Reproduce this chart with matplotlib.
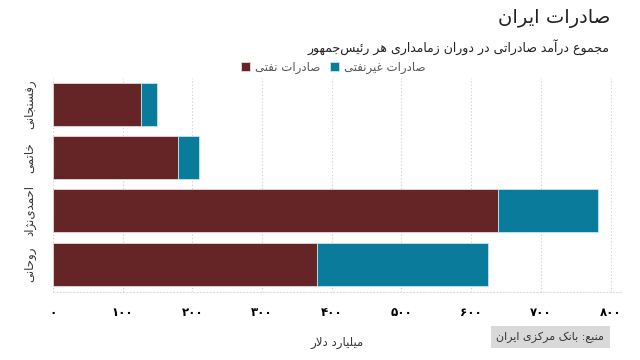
import matplotlib
matplotlib.use("Agg")
import matplotlib.pyplot as plt
import numpy as np

# data (billion dollars)
presidents = ["رفسنجانی", "خاتمی", "احمدی‌نژاد", "روحانی"]
oil_exports = [126, 179, 638, 379]
non_oil_exports = [23, 31, 144, 245]
x_ticks = [0, 100, 200, 300, 400, 500, 600, 700, 800]

title = "صادرات ایران"
subtitle = "مجموع درآمد صادراتی در دوران زمامداری هر رئیس‌جمهور"
legend_labels = ["صادرات نفتی", "صادرات غیرنفتی"]
x_label = "میلیارد دلار"
source = "منبع: بانک مرکزی ایران"

OIL_COLOR = "#652426"
NON_OIL_COLOR = "#0a7b9b"

# (isolated, final, initial, medial)
FORMS = {
    "ا": ("\uFE8D", "\uFE8E", None, None),
    "آ": ("\uFE81", "\uFE82", None, None),
    "ب": ("\uFE8F", "\uFE90", "\uFE91", "\uFE92"),
    "پ": ("\uFB56", "\uFB57", "\uFB58", "\uFB59"),
    "ت": ("\uFE95", "\uFE96", "\uFE97", "\uFE98"),
    "ث": ("\uFE99", "\uFE9A", "\uFE9B", "\uFE9C"),
    "ج": ("\uFE9D", "\uFE9E", "\uFE9F", "\uFEA0"),
    "چ": ("\uFB7A", "\uFB7B", "\uFB7C", "\uFB7D"),
    "ح": ("\uFEA1", "\uFEA2", "\uFEA3", "\uFEA4"),
    "خ": ("\uFEA5", "\uFEA6", "\uFEA7", "\uFEA8"),
    "د": ("\uFEA9", "\uFEAA", None, None),
    "ذ": ("\uFEAB", "\uFEAC", None, None),
    "ر": ("\uFEAD", "\uFEAE", None, None),
    "ز": ("\uFEAF", "\uFEB0", None, None),
    "ژ": ("\uFB8A", "\uFB8B", None, None),
    "س": ("\uFEB1", "\uFEB2", "\uFEB3", "\uFEB4"),
    "ش": ("\uFEB5", "\uFEB6", "\uFEB7", "\uFEB8"),
    "ص": ("\uFEB9", "\uFEBA", "\uFEBB", "\uFEBC"),
    "ض": ("\uFEBD", "\uFEBE", "\uFEBF", "\uFEC0"),
    "ط": ("\uFEC1", "\uFEC2", "\uFEC3", "\uFEC4"),
    "ظ": ("\uFEC5", "\uFEC6", "\uFEC7", "\uFEC8"),
    "ع": ("\uFEC9", "\uFECA", "\uFECB", "\uFECC"),
    "غ": ("\uFECD", "\uFECE", "\uFECF", "\uFED0"),
    "ف": ("\uFED1", "\uFED2", "\uFED3", "\uFED4"),
    "ق": ("\uFED5", "\uFED6", "\uFED7", "\uFED8"),
    "ک": ("\uFB8E", "\uFB8F", "\uFB90", "\uFB91"),
    "گ": ("\uFB92", "\uFB93", "\uFB94", "\uFB95"),
    "ل": ("\uFEDD", "\uFEDE", "\uFEDF", "\uFEE0"),
    "م": ("\uFEE1", "\uFEE2", "\uFEE3", "\uFEE4"),
    "ن": ("\uFEE5", "\uFEE6", "\uFEE7", "\uFEE8"),
    "و": ("\uFEED", "\uFEEE", None, None),
    "ه": ("\uFEE9", "\uFEEA", "\uFEEB", "\uFEEC"),
    "ی": ("\uFBFC", "\uFBFD", "\uFBFE", "\uFBFF"),
    "ئ": ("\uFE89", "\uFE8A", "\uFE8B", "\uFE8C"),
}
LAM_ALEF = {"ا": ("\uFEFB", "\uFEFC"), "آ": ("\uFEF5", "\uFEF6")}


def joins_left(ch):
    return ch in FORMS and FORMS[ch][2] is not None


def rtl(text):
    # shape arabic letters by hand and flip to visual order
    out = []
    i = 0
    n = len(text)
    while i < n:
        ch = text[i]
        prev = text[i - 1] if i > 0 else ""
        nxt = text[i + 1] if i + 1 < n else ""
        if ch not in FORMS:
            if ch != "\u200c":
                out.append(ch)
            i += 1
            continue
        from_prev = joins_left(prev)
        if ch == "ل" and nxt in LAM_ALEF:
            out.append(LAM_ALEF[nxt][1 if from_prev else 0])
            i += 2
            continue
        to_next = joins_left(ch) and nxt in FORMS
        iso, fin, ini, med = FORMS[ch]
        if from_prev and to_next:
            out.append(med)
        elif from_prev:
            out.append(fin)
        elif to_next:
            out.append(ini)
        else:
            out.append(iso)
        i += 1
    return "".join(reversed(out))


def fa_digits(v):
    return str(v).translate(str.maketrans("0123456789", "۰۱۲۳۴۵۶۷۸۹"))


plt.rcParams["font.family"] = ["DejaVu Sans"]

fig = plt.figure(figsize=(6.4, 3.6), dpi=100)
ax = fig.add_axes([53 / 640, 1 - 292 / 360, (621 - 53) / 640, (292 - 78) / 360])

y = np.arange(len(presidents))
ax.barh(y, oil_exports, height=0.81, color=OIL_COLOR, edgecolor="#e8d8d8",
        linewidth=0.6, label=rtl(legend_labels[0]), zorder=3)
ax.barh(y, non_oil_exports, left=oil_exports, height=0.81, color=NON_OIL_COLOR,
        edgecolor="#bfe6f0", linewidth=0.6, label=rtl(legend_labels[1]), zorder=3)

ax.set_xlim(0, 815)
ax.set_ylim(3.52, -0.49)
ax.set_xticks(x_ticks)
ax.set_xticklabels([fa_digits(t) for t in x_ticks], fontweight="bold", fontsize=8.5)
ax.set_yticks(y)
ax.set_yticklabels([rtl(p) for p in presidents], rotation=90, va="center",
                   fontsize=8.5, color="#333333")
ax.tick_params(axis="both", length=0)
ax.tick_params(axis="x", pad=10)
ax.tick_params(axis="y", pad=12)

ax.grid(axis="x", color="#cccccc", linestyle=(0, (1, 2)), linewidth=0.8, zorder=0)
for side in ["top", "right", "left"]:
    ax.spines[side].set_visible(False)
ax.spines["bottom"].set_color("#dddddd")
ax.spines["bottom"].set_linestyle((0, (1, 2)))

ax.set_xlabel(rtl(x_label), fontsize=8.5, color="#333333", labelpad=12)

leg = fig.legend(loc="center", bbox_to_anchor=(333 / 640, 1 - 67 / 360), ncol=2,
                 frameon=False, fontsize=8.5, handlelength=0.8, handleheight=0.8,
                 columnspacing=0.8, handletextpad=0.4)
for t in leg.get_texts():
    t.set_color("#555555")

fig.text(610 / 640, 1 - 18 / 360, rtl(title), ha="right", va="center",
         fontsize=14, color="#222222")
fig.text(610 / 640, 1 - 47 / 360, rtl(subtitle), ha="right", va="center",
         fontsize=9, color="#222222")
fig.text(604 / 640, 1 - 337 / 360, rtl(source), ha="right", va="center",
         fontsize=8, color="#333333",
         bbox=dict(boxstyle="square,pad=0.5", facecolor="#d9d9d9", edgecolor="none"))

fig.savefig("out.png", dpi=100)
